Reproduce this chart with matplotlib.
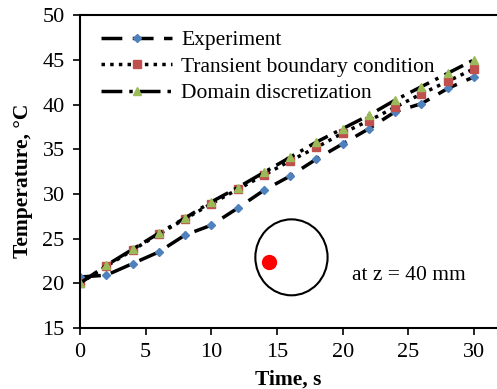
import matplotlib.pyplot as plt
from matplotlib.patches import Ellipse

plt.rcParams['font.family'] = ['Liberation Serif', 'DejaVu Serif']

time = [0, 2, 4, 6, 8, 10, 12, 14, 16, 18, 20, 22, 24, 26, 28, 30]
experiment = [20.7, 20.9, 22.2, 23.5, 25.4, 26.5, 28.4, 30.4, 32.0, 33.9,
              35.6, 37.3, 39.2, 40.1, 41.8, 43.1]
transient = [20.0, 21.9, 23.7, 25.5, 27.2, 28.9, 30.5, 32.1, 33.7, 35.2,
             36.8, 38.2, 39.7, 41.2, 42.6, 44.0]
domain = [20.0, 22.0, 23.8, 25.6, 27.3, 29.1, 30.7, 32.4, 34.1, 35.8,
          37.3, 38.8, 40.5, 42.0, 43.5, 45.0]

fig = plt.figure(figsize=(4.97, 3.89), dpi=100)
ax = fig.add_axes([0.161, 0.157, 0.839, 0.804])

ax.plot(time, experiment, color='black', lw=2.5, dashes=(6, 3),
        marker='D', ms=4.5, mfc='#4F81BD', mec='#4F81BD', label='Experiment')
ax.plot(time, transient, color='black', lw=2.5, dashes=(1, 1.5),
        marker='s', ms=5.5, mfc='#C0504D', mec='#C0504D',
        label='Transient boundary condition')
ax.plot(time, domain, color='black', lw=2.5, dashes=(6, 2, 1, 2),
        marker='^', ms=6, mfc='#9BBB59', mec='#9BBB59',
        label='Domain discretization')

# sketch of the cross-section with the measuring point
ax.add_patch(Ellipse((16.1, 22.9), 5.5, 8.5, fill=False, ec='black', lw=1.5))
ax.plot([14.4], [22.4], 'o', color='red', ms=10)
ax.text(20.7, 20.9, 'at z = 40 mm', fontsize=15.5, va='center')

ax.set_xlim(0, 31.75)
ax.set_ylim(15, 50)
ax.set_xticks(range(0, 31, 5))
ax.set_yticks(range(15, 51, 5))
ax.tick_params(direction='out', length=5, width=1.2, labelsize=16, pad=6)
ax.spines['right'].set_visible(False)
for s in ['left', 'bottom', 'top']:
    ax.spines[s].set_linewidth(1.5)

ax.set_xlabel('Time, s', fontsize=15.5, fontweight='bold', labelpad=5)
ax.set_ylabel('Temperature, °C', fontsize=15.5, fontweight='bold')
ax.yaxis.set_label_coords(-0.113, 0.47)

ax.legend(loc='upper left', frameon=False, fontsize=15.5, handlelength=3.3,
          handletextpad=0.4, borderaxespad=0.3, labelspacing=0.3,
          bbox_to_anchor=(0.015, 1.0))

fig.savefig('out.png', dpi=100)
